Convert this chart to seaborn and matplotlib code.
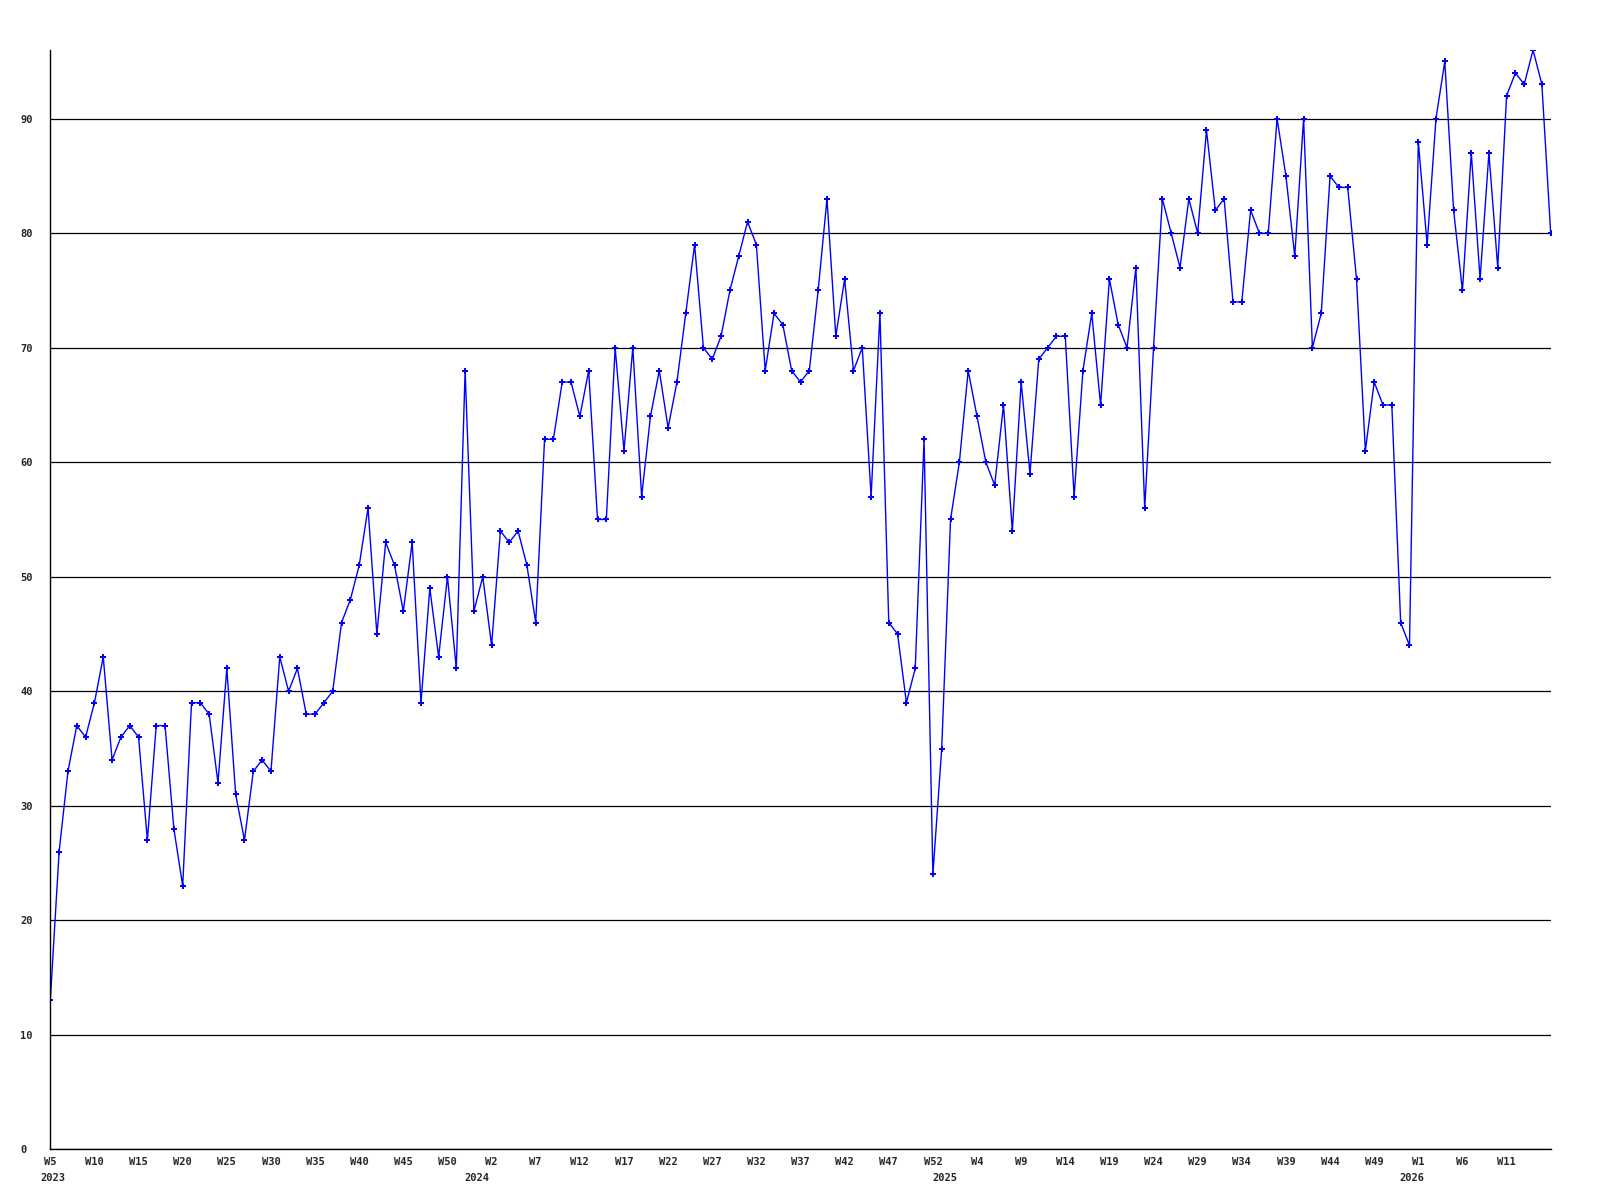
import matplotlib
matplotlib.use("Agg")
import matplotlib.pyplot as plt
import seaborn as sns
import pandas as pd

# weekly values, 2023 W5 .. 2026 W16
values = [
    13, 26, 33, 37, 36, 39, 43, 34, 36, 37, 36, 27, 37, 37, 28, 23, 39, 39, 38, 32,
    42, 31, 27, 33, 34, 33, 43, 40, 42, 38, 38, 39, 40, 46, 48, 51, 56, 45, 53, 51,
    47, 53, 39, 49, 43, 50, 42, 68, 47, 50, 44, 54, 53, 54, 51, 46, 62, 62, 67, 67,
    64, 68, 55, 55, 70, 61, 70, 57, 64, 68, 63, 67, 73, 79, 70, 69, 71, 75, 78, 81,
    79, 68, 73, 72, 68, 67, 68, 75, 83, 71, 76, 68, 70, 57, 73, 46, 45, 39, 42, 62,
    24, 35, 55, 60, 68, 64, 60, 58, 65, 54, 67, 59, 69, 70, 71, 71, 57, 68, 73, 65,
    76, 72, 70, 77, 56, 70, 83, 80, 77, 83, 80, 89, 82, 83, 74, 74, 82, 80, 80, 90,
    85, 78, 90, 70, 73, 85, 84, 84, 76, 61, 67, 65, 65, 46, 44, 88, 79, 90, 95, 82,
    75, 87, 76, 87, 77, 92, 94, 93, 96, 93, 80,
]

# week ranges per year as they appear on the axis
years = [2023, 2024, 2025, 2026]
first_week = [5, 0, 0, 0]
last_week = [52, 52, 52, 16]

weeks = []
year_of = []
for y, a, b in zip(years, first_week, last_week):
    for w in range(a, b + 1):
        weeks.append(w)
        year_of.append(y)

df = pd.DataFrame({"idx": range(len(values)), "value": values,
                   "week": weeks, "year": year_of})

sns.set_style("white")
plt.rcParams["font.family"] = ["DejaVu Sans Mono"]

fig = plt.figure(figsize=(16, 12), dpi=100)
ax = fig.add_axes([50.3 / 1600, 1 - 1149.3 / 1200, 1500.4 / 1600, 1099.3 / 1200])

sns.lineplot(data=df, x="idx", y="value", ax=ax, color="#0000ff",
             linewidth=1.0, marker="P", markersize=4.5, markeredgewidth=0)

ax.set_xlim(0, len(values) - 1)
ax.set_ylim(0, 96)

ax.set_yticks(range(0, 91, 10))
ax.yaxis.grid(True, color="black", linewidth=0.9)
ax.set_axisbelow(True)
ax.tick_params(axis="y", length=0, pad=21.8, labelsize=7.5)
for lab in ax.get_yticklabels():
    lab.set_horizontalalignment("left")
    lab.set_fontweight("bold")

tick_idx = list(range(0, len(values) - 5, 5))
ax.set_xticks(tick_idx)
ax.set_xticklabels(["W%d" % weeks[i] for i in tick_idx], fontsize=7.5,
                   fontweight="bold")
ax.tick_params(axis="x", length=0, pad=5.7)

# year labels under the first week of each year
for y in years:
    i = year_of.index(y)
    ax.annotate(str(y), xy=(i, 0), xycoords=("data", "axes fraction"),
                xytext=(2, -21), textcoords="offset points",
                ha="center", va="center", fontsize=7.5, fontweight="bold")

ax.set_xlabel("")
ax.set_ylabel("")
for s in ["top", "right"]:
    ax.spines[s].set_visible(False)
for s in ["left", "bottom"]:
    ax.spines[s].set_color("black")
    ax.spines[s].set_linewidth(1.0)

fig.savefig("out.png", dpi=100, facecolor="white")
